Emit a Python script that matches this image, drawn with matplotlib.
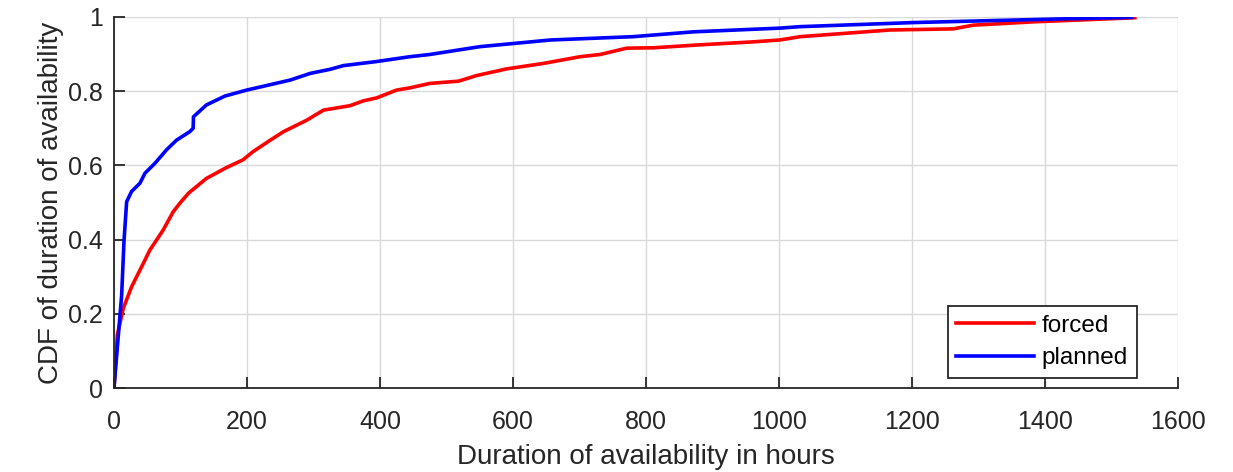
import matplotlib
matplotlib.use("Agg")
import matplotlib.pyplot as plt

plt.rcParams['font.family'] = ['Liberation Sans', 'DejaVu Sans']

# Data (hours, CDF)
forced_x = [0, 5, 14, 26.5, 41.6, 54, 74, 89, 99, 112, 139, 169, 194, 209, 235, 255,
            290, 315, 355, 375, 395, 425, 445, 475, 518, 545, 590, 646, 701, 731, 771,
            811, 881, 961, 1001, 1032, 1062, 1167, 1262, 1292, 1383, 1453, 1535]
forced_y = [0, 0.143, 0.215, 0.273, 0.327, 0.372, 0.426, 0.475, 0.498, 0.525, 0.565,
            0.594, 0.615, 0.637, 0.668, 0.691, 0.722, 0.749, 0.761, 0.774, 0.782, 0.803,
            0.809, 0.821, 0.827, 0.842, 0.860, 0.875, 0.893, 0.899, 0.916, 0.917, 0.925,
            0.933, 0.938, 0.947, 0.951, 0.965, 0.968, 0.978, 0.987, 0.992, 0.998]

planned_x = [0, 11.5, 15, 19, 26.5, 39, 46.6, 61.7, 79, 94, 114, 119, 119.5, 139, 167,
             199.5, 265, 295, 325, 345, 395, 445, 475, 550, 656, 781, 871, 1001, 1032,
             1202, 1403, 1530]
planned_y = [0, 0.25, 0.395, 0.502, 0.53, 0.552, 0.579, 0.606, 0.642, 0.668, 0.691,
             0.70, 0.731, 0.763, 0.787, 0.803, 0.830, 0.848, 0.859, 0.869, 0.880, 0.893,
             0.899, 0.920, 0.938, 0.947, 0.960, 0.970, 0.974, 0.985, 0.994, 0.999]

x_ticks = [0, 200, 400, 600, 800, 1000, 1200, 1400, 1600]
y_ticks = [0, 0.2, 0.4, 0.6, 0.8, 1]
y_ticklabels = ['0', '0.2', '0.4', '0.6', '0.8', '1']

dark = (0.15, 0.15, 0.15)

fig = plt.figure(figsize=(12.33, 4.72), dpi=100)
ax = fig.add_axes([114/1233, 1 - 388/472, (1178-114)/1233, (388-17)/472])

ax.plot(forced_x, forced_y, color=(1, 0, 0), lw=2.6, label='forced')
ax.plot(planned_x, planned_y, color=(0, 0, 1), lw=2.6, label='planned')

ax.set_xlim(0, 1600)
ax.set_ylim(0, 1)
ax.set_xticks(x_ticks)
ax.set_yticks(y_ticks)
ax.set_yticklabels(y_ticklabels)
ax.grid(True, color=(0.85, 0.85, 0.85), lw=1.0)
ax.set_axisbelow(True)

for s in ['top', 'right']:
    ax.spines[s].set_visible(False)
for s in ['left', 'bottom']:
    ax.spines[s].set_color(dark)
    ax.spines[s].set_linewidth(1.3)
ax.tick_params(direction='in', length=8, width=1.3, colors=dark, labelsize=18)
ax.tick_params(axis='x', pad=16)
ax.tick_params(axis='y', pad=8)

ax.set_xlabel('Duration of availability in hours', fontsize=20, color=dark, labelpad=7)
ax.set_ylabel('CDF of duration of availability', fontsize=20, color=dark, labelpad=3)

leg = ax.legend(loc='lower right', bbox_to_anchor=(0.961, 0.027), fontsize=17.5,
                frameon=True, fancybox=False, edgecolor=dark, framealpha=1,
                handlelength=3.2, handletextpad=0.3, borderpad=0.36, labelspacing=0.43,
                borderaxespad=0)
leg.get_frame().set_linewidth(1.3)
for t in leg.get_texts():
    t.set_color('black')

fig.savefig('out.png', dpi=100)
